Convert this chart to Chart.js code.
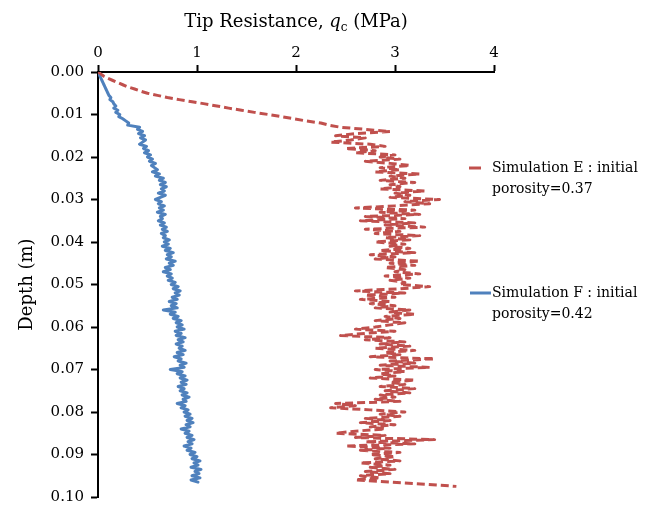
<!DOCTYPE html>
<html>
<head>
<meta charset="utf-8">
<script src="https://cdn.jsdelivr.net/npm/chart.js@4/dist/chart.umd.min.js"></script>
<style>
  html, body { margin: 0; padding: 0; background: #fff; }
  canvas { display: block; }
</style>
</head>
<body>
<canvas id="cpt-chart" width="653" height="513"></canvas>
<script>
// depth below surface (m), shared by both simulations
const depth = [0.0000,0.0005,0.0010,0.0015,0.0020,0.0025,0.0030,0.0035,0.0040,0.0045,
               0.0050,0.0055,0.0060,0.0065,0.0070,0.0075,0.0080,0.0085,0.0090,0.0095,
               0.0100,0.0105,0.0110,0.0115,0.0120,0.0125,0.0130,0.0135,0.0140,0.0145,
               0.0150,0.0155,0.0160,0.0165,0.0170,0.0175,0.0180,0.0185,0.0190,0.0195,
               0.0200,0.0205,0.0210,0.0215,0.0220,0.0225,0.0230,0.0235,0.0240,0.0245,
               0.0250,0.0255,0.0260,0.0265,0.0270,0.0275,0.0280,0.0285,0.0290,0.0295,
               0.0300,0.0305,0.0310,0.0315,0.0320,0.0325,0.0330,0.0335,0.0340,0.0345,
               0.0350,0.0355,0.0360,0.0365,0.0370,0.0375,0.0380,0.0385,0.0390,0.0395,
               0.0400,0.0405,0.0410,0.0415,0.0420,0.0425,0.0430,0.0435,0.0440,0.0445,
               0.0450,0.0455,0.0460,0.0465,0.0470,0.0475,0.0480,0.0485,0.0490,0.0495,
               0.0500,0.0505,0.0510,0.0515,0.0520,0.0525,0.0530,0.0535,0.0540,0.0545,
               0.0550,0.0555,0.0560,0.0565,0.0570,0.0575,0.0580,0.0585,0.0590,0.0595,
               0.0600,0.0605,0.0610,0.0615,0.0620,0.0625,0.0630,0.0635,0.0640,0.0645,
               0.0650,0.0655,0.0660,0.0665,0.0670,0.0675,0.0680,0.0685,0.0690,0.0695,
               0.0700,0.0705,0.0710,0.0715,0.0720,0.0725,0.0730,0.0735,0.0740,0.0745,
               0.0750,0.0755,0.0760,0.0765,0.0770,0.0775,0.0780,0.0785,0.0790,0.0795,
               0.0800,0.0805,0.0810,0.0815,0.0820,0.0825,0.0830,0.0835,0.0840,0.0845,
               0.0850,0.0855,0.0860,0.0865,0.0870,0.0875,0.0880,0.0885,0.0890,0.0895,
               0.0900,0.0905,0.0910,0.0915,0.0920,0.0925,0.0930,0.0935,0.0940,0.0945,
               0.0950,0.0955,0.0960,0.0965,0.0970,0.0975]

// tip resistance qc (MPa), simulation E (porosity 0.37)
const qcE = [0.00,0.03,0.06,0.10,0.15,0.20,0.25,0.30,0.37,0.43,
             0.50,0.60,0.70,0.82,0.95,1.08,1.20,1.32,1.45,1.58,
             1.72,1.85,1.98,2.10,2.25,2.33,2.45,2.70,2.95,2.60,
             2.40,2.70,2.55,2.35,2.75,2.90,2.50,2.80,2.60,3.00,
             2.85,3.05,2.70,2.95,3.15,2.85,3.05,2.80,3.25,2.95,
             3.10,2.85,3.20,2.95,3.05,2.85,3.30,3.00,3.15,2.95,
             3.45,3.10,3.35,3.00,2.60,3.20,2.85,3.25,2.70,3.10,
             2.65,3.20,2.90,3.30,2.70,3.05,2.80,3.25,2.90,3.15,
             2.80,3.10,2.95,3.15,2.85,3.20,2.75,3.00,2.80,3.25,
             2.95,3.20,2.90,3.10,3.00,3.25,2.90,3.15,2.95,3.10,
             3.05,3.35,3.05,2.60,3.10,2.70,3.00,2.65,2.95,2.75,
             3.00,2.80,3.15,2.95,3.20,2.90,3.05,2.80,3.10,2.95,
             2.80,2.60,3.00,2.70,2.45,2.95,2.70,3.10,2.85,3.15,
             2.80,3.20,2.90,3.05,2.75,3.40,2.95,3.20,2.85,3.35,
             2.80,3.10,2.85,3.00,2.75,3.20,2.95,3.10,2.85,3.20,
             2.90,3.15,2.85,3.00,2.80,3.05,2.40,2.60,2.35,2.75,
             3.10,2.85,3.05,2.70,2.95,2.65,3.00,2.75,2.90,2.60,
             2.40,2.90,2.60,3.40,2.70,3.20,2.50,2.95,2.65,3.05,
             2.75,3.00,2.80,3.05,2.65,2.95,2.75,3.00,2.70,2.95,
             2.65,2.85,2.60,2.95,3.30,3.62]

// tip resistance qc (MPa), simulation F (porosity 0.42)
const qcF = [0.00,0.01,0.02,0.03,0.04,0.05,0.06,0.07,0.08,0.09,
             0.10,0.11,0.13,0.12,0.15,0.16,0.18,0.16,0.20,0.18,
             0.22,0.21,0.25,0.28,0.31,0.30,0.42,0.40,0.45,0.41,
             0.47,0.43,0.48,0.45,0.42,0.49,0.46,0.51,0.47,0.53,
             0.50,0.55,0.52,0.58,0.54,0.57,0.60,0.55,0.62,0.58,
             0.66,0.62,0.68,0.63,0.69,0.64,0.67,0.61,0.68,0.63,
             0.58,0.64,0.61,0.67,0.62,0.66,0.60,0.68,0.63,0.65,
             0.61,0.67,0.63,0.69,0.65,0.70,0.64,0.68,0.66,0.72,
             0.67,0.71,0.65,0.73,0.68,0.76,0.70,0.74,0.69,0.78,
             0.72,0.76,0.68,0.73,0.66,0.74,0.70,0.75,0.71,0.78,
             0.74,0.81,0.76,0.83,0.78,0.82,0.75,0.80,0.72,0.79,
             0.74,0.80,0.66,0.78,0.73,0.81,0.76,0.84,0.79,0.85,
             0.80,0.87,0.78,0.84,0.79,0.88,0.81,0.86,0.79,0.85,
             0.82,0.88,0.80,0.86,0.77,0.84,0.81,0.89,0.83,0.87,
             0.73,0.85,0.80,0.88,0.83,0.90,0.84,0.89,0.81,0.87,
             0.83,0.90,0.85,0.92,0.86,0.89,0.80,0.88,0.84,0.91,
             0.87,0.93,0.88,0.95,0.90,0.96,0.89,0.93,0.84,0.92,
             0.88,0.95,0.90,0.97,0.91,0.95,0.87,0.94,0.90,0.98,
             0.93,1.00,0.95,1.03,0.97,1.01,0.94,1.04,0.98,1.02,
             0.95,1.03,0.94,1.01]

const legendE = ["Simulation E : initial", "porosity=0.37"]
const legendF = ["Simulation F : initial", "porosity=0.42"]
const colourE = "#C0504D"
const colourF = "#4F81BD"

const pointsE = qcE.map((v, i) => ({x: v, y: depth[i]}))
const pointsF = qcF.map((v, i) => ({x: v, y: depth[i]}))

const FONT = "'DejaVu Serif', serif"
Chart.defaults.font.family = FONT
Chart.defaults.color = "#000"

// axis title with italic q and subscript c, plus the two-line legend
const extraText = {
  id: "extraText",
  afterDraw(chart) {
    const ctx = chart.ctx
    ctx.save()
    ctx.fillStyle = "#000"
    const parts = [
      {t: "Tip Resistance, ", f: "18px " + FONT, dy: 0},
      {t: "q", f: "italic 18px " + FONT, dy: 0},
      {t: "c", f: "12px " + FONT, dy: 4},
      {t: " (MPa)", f: "18px " + FONT, dy: 0}
    ]
    let w = 0
    parts.forEach(p => { ctx.font = p.f; w += ctx.measureText(p.t).width })
    const xs = chart.scales.x
    let x = (xs.left + xs.right) / 2 - w / 2
    ctx.textBaseline = "alphabetic"
    parts.forEach(p => { ctx.font = p.f; ctx.fillText(p.t, x, 27 + p.dy); x += ctx.measureText(p.t).width })

    const items = [
      {lines: legendE, colour: colourE, x0: 469, x1: 481, y: 168},
      {lines: legendF, colour: colourF, x0: 470, x1: 491, y: 293}
    ]
    ctx.font = "14px " + FONT
    ctx.textBaseline = "middle"
    items.forEach(it => {
      ctx.strokeStyle = it.colour
      ctx.lineWidth = 3
      ctx.beginPath()
      ctx.moveTo(it.x0, it.y)
      ctx.lineTo(it.x1, it.y)
      ctx.stroke()
      it.lines.forEach((line, k) => ctx.fillText(line, 492, it.y + k * 21))
    })
    ctx.restore()
  }
}

new Chart("cpt-chart", {
  type: "scatter",
  data: {
    datasets: [
      {label: legendE.join(" "), data: pointsE, showLine: true, borderColor: colourE, backgroundColor: colourE,
       borderWidth: 3, borderDash: [8, 4], borderJoinStyle: "round", pointRadius: 0, tension: 0},
      {label: legendF.join(" "), data: pointsF, showLine: true, borderColor: colourF, backgroundColor: colourF,
       borderWidth: 3, borderJoinStyle: "round", borderCapStyle: "round", pointRadius: 0, tension: 0}
    ]
  },
  options: {
    responsive: false,
    animation: false,
    devicePixelRatio: 1,
    layout: {padding: {top: 0, right: 159, bottom: 10, left: 0}},
    plugins: {legend: {display: false}, tooltip: {enabled: false}},
    scales: {
      x: {
        type: "linear", position: "top", min: 0, max: 4,
        ticks: {stepSize: 1, font: {size: 15}, padding: 3},
        grid: {drawOnChartArea: false, drawTicks: true, tickLength: 7, tickColor: "#000", tickWidth: 2},
        border: {color: "#000", width: 2},
        afterFit(s) { s.height = 72 }
      },
      y: {
        type: "linear", reverse: true, min: 0, max: 0.1,
        ticks: {stepSize: 0.01, font: {size: 15}, padding: 7, callback: v => v.toFixed(2)},
        grid: {drawOnChartArea: false, drawTicks: true, tickLength: 7, tickColor: "#000", tickWidth: 2},
        border: {color: "#000", width: 2},
        title: {display: true, text: "Depth (m)", font: {size: 18}, padding: {top: 17, bottom: 0}},
        afterFit(s) { s.width = 98 }
      }
    }
  },
  plugins: [extraText]
})
</script>
</body>
</html>
